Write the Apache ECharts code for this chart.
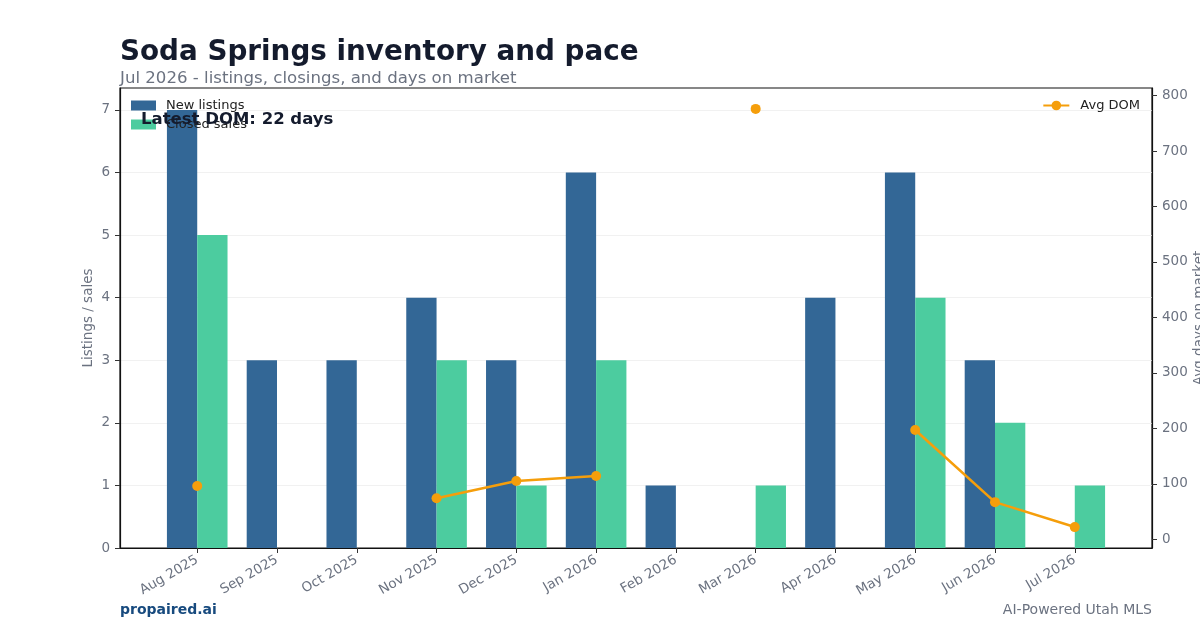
<!DOCTYPE html>
<html>
<head>
<meta charset="utf-8">
<script src="https://cdn.jsdelivr.net/npm/echarts@6/dist/echarts.min.js"></script>
<style>
  html, body { margin: 0; padding: 0; background: #fff; }
  #chart { width: 1200px; height: 630px; }
</style>
</head>
<body>
<div id="chart"></div>
<script>
// data
const months = ['Aug 2025', 'Sep 2025', 'Oct 2025', 'Nov 2025', 'Dec 2025', 'Jan 2026',
  'Feb 2026', 'Mar 2026', 'Apr 2026', 'May 2026', 'Jun 2026', 'Jul 2026']
const newListings = [7, 3, 3, 4, 3, 6, 1, 0, 4, 6, 3, 0]
const closedSales = [5, 0, 0, 3, 1, 3, 0, 1, 0, 4, 2, 1]
const avgDom = [96, null, null, 74, 105, 114, null, 776, null, 197, 67, 22]
const leftTicks = [0, 1, 2, 3, 4, 5, 6, 7]
const rightTicks = [0, 100, 200, 300, 400, 500, 600, 700, 800]

const idx = months.map((m, i) => i)
const font = 'DejaVu Sans'
const grey = '#6b7280'

let chart = echarts.init(document.getElementById('chart'))
chart.setOption({
  animation: false,
  textStyle: { fontFamily: font },
  title: [
    { text: 'Soda Springs inventory and pace', left: 120, top: 39, padding: 0,
      textStyle: { fontSize: 27.8, fontWeight: 'bold', color: '#141b2d', fontFamily: font } },
    { text: 'Jul 2026 - listings, closings, and days on market', left: 120, top: 70, padding: 0,
      textStyle: { fontSize: 16.6, fontWeight: 'normal', color: grey, fontFamily: font } }
  ],
  legend: [
    { data: ['New listings', 'Closed sales'], orient: 'vertical', left: 126, top: 94,
      icon: 'rect', itemWidth: 25, itemHeight: 10, itemGap: 6,
      textStyle: { fontSize: 13, color: '#222', fontFamily: font, padding: [0, 0, 0, 5] } },
    { data: ['Avg DOM'], right: 55, top: 94, itemWidth: 26, itemHeight: 12,
      textStyle: { fontSize: 13, color: '#222', fontFamily: font, padding: [0, 0, 0, 6] } }
  ],
  graphic: [
    { type: 'text', left: 141, top: 111, z: 100,
      style: { text: 'Latest DOM: 22 days', fontSize: 16.5, fontWeight: 'bold', fill: '#141b2d', fontFamily: font } },
    { type: 'text', left: 120, top: 603,
      style: { text: 'propaired.ai', fontSize: 14, fontWeight: 'bold', fill: '#174a7e', fontFamily: font } },
    { type: 'text', right: 48, top: 603,
      style: { text: 'AI-Powered Utah MLS', fontSize: 14, fill: grey, fontFamily: font } }
  ],
  grid: { left: 120, right: 48, top: 88, bottom: 82, show: true, outerBoundsMode: 'none',
    borderColor: '#111', borderWidth: 1.2, backgroundColor: 'transparent' },
  xAxis: {
    type: 'value', min: -0.968, max: 11.968,
    axisLine: { show: true, onZero: false, lineStyle: { color: '#111', width: 1.2 } },
    axisTick: { show: true, customValues: idx, length: 5, lineStyle: { color: '#333' } },
    axisLabel: { customValues: idx, rotate: 30, fontSize: 13.5, color: grey, margin: 11,
      formatter: v => months[Math.round(v)] },
    splitLine: { show: false }
  },
  yAxis: [
    { type: 'value', min: 0, max: 7.35, name: 'Listings / sales', nameLocation: 'middle',
      nameGap: 25, nameMoveOverlap: false,
      nameTextStyle: { fontSize: 13.5, color: grey },
      axisLine: { show: true, onZero: false, lineStyle: { color: '#111', width: 1.2 } },
      axisTick: { show: true, customValues: leftTicks, length: 5, lineStyle: { color: '#333' } },
      axisLabel: { customValues: leftTicks, fontSize: 13.5, color: grey, margin: 10 },
      splitLine: { show: true, lineStyle: { color: '#eeeeee', width: 0.8 } } },
    { type: 'value', min: -15.7, max: 813.7, name: 'Avg days on market', nameLocation: 'middle',
      nameGap: 40, nameMoveOverlap: false, nameRotate: 90,
      nameTextStyle: { fontSize: 13.5, color: grey },
      axisLine: { show: true, onZero: false, lineStyle: { color: '#111', width: 1.2 } },
      axisTick: { show: true, customValues: rightTicks, length: 5, lineStyle: { color: '#333' } },
      axisLabel: { customValues: rightTicks, fontSize: 13.5, color: grey, margin: 10 },
      splitLine: { show: false } }
  ],
  series: [
    { name: 'New listings', type: 'bar', yAxisIndex: 0, barWidth: 30.3, barGap: '0%',
      itemStyle: { color: '#336796' },
      data: newListings.map((v, i) => [i, v]) },
    { name: 'Closed sales', type: 'bar', yAxisIndex: 0, barWidth: 30.3, barGap: '0%',
      itemStyle: { color: '#4ccc9f' },
      data: closedSales.map((v, i) => [i, v]) },
    { name: 'Avg DOM', type: 'line', yAxisIndex: 1, connectNulls: false,
      symbol: 'circle', symbolSize: 10, z: 10,
      lineStyle: { color: '#f59e0b', width: 2.6 }, itemStyle: { color: '#f59e0b' },
      data: avgDom.map((v, i) => [i, v]) }
  ]
})
</script>
</body>
</html>
